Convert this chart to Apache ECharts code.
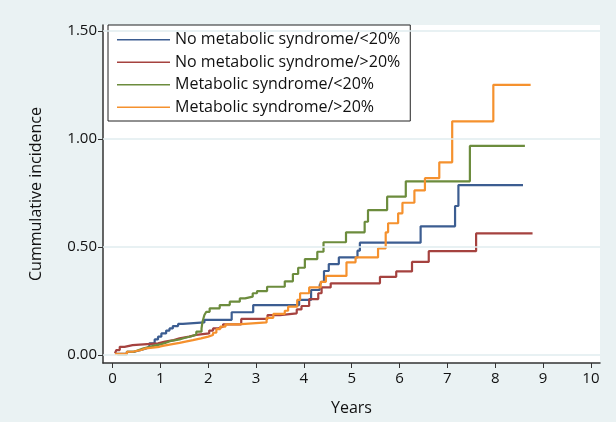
<!DOCTYPE html>
<html>
<head>
<meta charset="utf-8">
<script src="https://cdn.jsdelivr.net/npm/echarts@6/dist/echarts.min.js"></script>
<style>
html,body{margin:0;padding:0;background:#eaf2f3;}
#chart{width:616px;height:422px;}
</style>
</head>
<body>
<div id="chart"></div>
<script>
const seriesNames = [
  'No metabolic syndrome/<20%',
  'No metabolic syndrome/>20%',
  'Metabolic syndrome/<20%',
  'Metabolic syndrome/>20%'
];
const xTicks = [0,1,2,3,4,5,6,7,8,9,10];
const yTicks = [0, 0.5, 1, 1.5];

// [years, cumulative incidence] step points
const noMetsLow = [[0.05,0.005],[0.3,0.015],[0.45,0.023],[0.6,0.03],[0.7,0.038],[0.77,0.054],[0.88,0.072],[0.95,0.085],[1.02,0.1],[1.12,0.113],[1.19,0.123],[1.26,0.134],[1.37,0.144],[1.47,0.151],[1.92,0.163],[2.49,0.198],[2.94,0.231],[3.9,0.255],[4.15,0.301],[4.33,0.324],[4.37,0.339],[4.42,0.389],[4.52,0.421],[4.73,0.452],[5.12,0.483],[5.17,0.52],[6.44,0.596],[7.16,0.69],[7.23,0.787],[8.58,0.787]];
const noMetsHigh = [[0.05,0.008],[0.08,0.023],[0.15,0.038],[0.25,0.046],[0.42,0.054],[0.95,0.062],[1.1,0.069],[1.28,0.077],[1.4,0.085],[1.6,0.093],[1.75,0.1],[2.02,0.113],[2.1,0.123],[2.2,0.131],[2.31,0.142],[2.69,0.167],[3.24,0.185],[3.5,0.193],[3.85,0.211],[3.95,0.227],[4.11,0.259],[4.3,0.286],[4.37,0.313],[4.56,0.332],[5.59,0.362],[5.93,0.387],[6.26,0.431],[6.61,0.481],[7.6,0.563],[8.78,0.563]];
const metsLow = [[0.1,0.003],[0.3,0.015],[0.45,0.023],[0.55,0.031],[0.65,0.035],[0.72,0.042],[0.85,0.049],[1.0,0.056],[1.1,0.064],[1.2,0.072],[1.4,0.079],[1.5,0.087],[1.65,0.095],[1.75,0.108],[1.86,0.123],[1.88,0.154],[1.92,0.185],[1.96,0.2],[2.03,0.216],[2.24,0.231],[2.45,0.247],[2.66,0.262],[2.77,0.27],[2.93,0.286],[3.02,0.296],[3.23,0.316],[3.6,0.341],[3.77,0.375],[3.88,0.404],[4.02,0.444],[4.28,0.478],[4.41,0.522],[4.88,0.568],[5.27,0.617],[5.34,0.671],[5.74,0.733],[6.13,0.804],[7.47,0.968],[8.62,0.968]];
const metsHigh = [[0.05,0.005],[0.3,0.015],[0.42,0.023],[0.6,0.031],[0.7,0.038],[0.98,0.042],[1.05,0.049],[1.22,0.056],[1.4,0.063],[1.55,0.069],[1.68,0.077],[1.85,0.085],[2.0,0.093],[2.1,0.103],[2.17,0.12],[2.25,0.131],[2.36,0.142],[2.62,0.151],[3.22,0.172],[3.36,0.19],[3.6,0.205],[3.67,0.224],[3.86,0.255],[3.92,0.286],[4.11,0.313],[4.35,0.339],[4.46,0.366],[4.89,0.429],[5.08,0.452],[5.55,0.494],[5.71,0.568],[5.76,0.61],[5.97,0.656],[6.06,0.705],[6.31,0.762],[6.53,0.819],[6.83,0.892],[7.1,1.082],[7.96,1.251],[8.74,1.251]];

const seriesData = [noMetsLow, noMetsHigh, metsLow, metsHigh];
const colors = ['#3c5d91', '#a5423f', '#6c8c3d', '#f5912e'];

const font = '"Open Sans", "Noto Sans", sans-serif';
const chart = echarts.init(document.getElementById('chart'));

const series = seriesNames.map((name, i) => ({
  name: name,
  type: 'line',
  step: 'end',
  data: seriesData[i],
  symbol: 'none',
  showSymbol: false,
  z: 3,
  lineStyle: { color: colors[i], width: 2.2 },
  itemStyle: { color: colors[i] }
}));

series.unshift({
  name: 'grid',
  type: 'line',
  data: [],
  z: 1,
  silent: true,
  markLine: {
    silent: true,
    symbol: 'none',
    label: { show: false },
    lineStyle: { color: '#e1ecef', width: 1.5, type: 'solid' },
    data: yTicks.map(v => ({ yAxis: v }))
  }
});

chart.setOption({
  backgroundColor: '#eaf2f3',
  animation: false,
  textStyle: { fontFamily: font },
  grid: {
    left: 103, right: 16, top: 25, bottom: 59,
    show: true, backgroundColor: '#ffffff', borderWidth: 0
  },
  legend: {
    data: seriesNames.map(n => ({ name: n, icon: 'rect' })),
    orient: 'vertical',
    left: 108, top: 25,
    backgroundColor: '#ffffff',
    borderColor: '#222222',
    borderWidth: 1,
    borderRadius: 0,
    padding: [5, 10, 4, 9],
    itemWidth: 53,
    itemHeight: 1.5,
    itemGap: 3,
    textStyle: { fontFamily: font, fontSize: 16, color: '#111', lineHeight: 19.5 }
  },
  xAxis: {
    type: 'value',
    min: -0.2, max: 10.19,
    name: 'Years',
    nameLocation: 'middle',
    nameGap: 37,
    nameTextStyle: { fontFamily: font, fontSize: 16, color: '#111' },
    axisLine: { show: true, onZero: false, lineStyle: { color: '#333', width: 1.5 } },
    axisTick: { show: true, length: 5, customValues: xTicks, lineStyle: { color: '#333' } },
    axisLabel: { customValues: xTicks, margin: 8, fontSize: 15, color: '#111', fontFamily: font },
    splitLine: { show: false }
  },
  yAxis: {
    type: 'value',
    min: -0.037, max: 1.528,
    name: 'Cummulative incidence',
    nameLocation: 'middle',
    nameGap: 59,
    nameRotate: 90,
    nameTextStyle: { fontFamily: font, fontSize: 16, color: '#111' },
    axisLine: { show: true, onZero: false, lineStyle: { color: '#333', width: 1.5 } },
    axisTick: { show: true, length: 5, customValues: yTicks, lineStyle: { color: '#333' } },
    axisLabel: { customValues: yTicks, margin: 6, fontSize: 15, color: '#111', fontFamily: font,
      formatter: v => v.toFixed(2) },
    splitLine: { show: false }
  },
  series: series
});
</script>
</body>
</html>
